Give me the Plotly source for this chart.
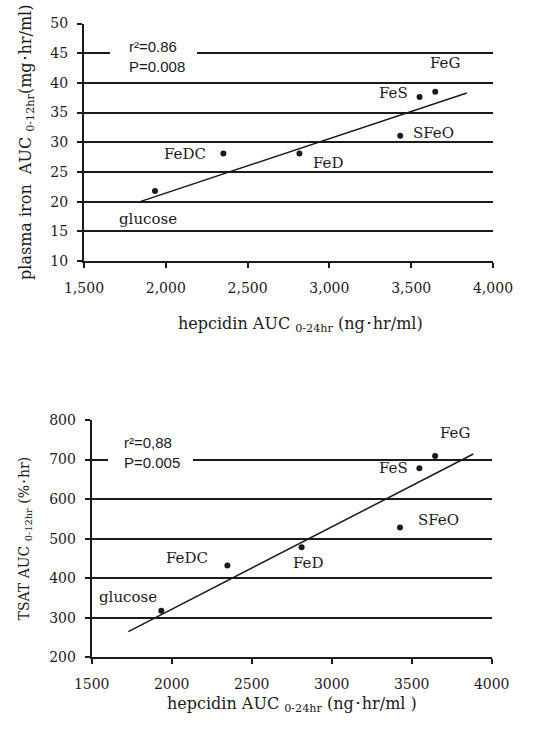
import plotly.graph_objects as go

# ---- data ----
groups = ["glucose", "FeDC", "FeD", "SFeO", "FeS", "FeG"]
hepcidin_top = [1934, 2352, 2817, 3433, 3551, 3647]
plasma_iron = [21.8, 28.1, 28.1, 31.1, 37.6, 38.5]
trend_top_x = [1843, 3840]
trend_top_y = [20.0, 38.3]

hepcidin_bot = [1935, 2348, 2812, 3427, 3548, 3646]
tsat = [318, 432, 478, 528, 678, 709]
trend_bot_x = [1729, 3885]
trend_bot_y = [265, 714]

stats_top = "r²=0.86<br>P=0.008"
stats_bot = "r²=0,88<br>P=0.005"

# label offsets (px) relative to points
off_top = [(-7, -28), (-38, 0), (29, -9), (33, 3), (-26, 4), (10, 29)]
off_bot = [(-33, 14), (-40, 8), (7, -16), (38, 8), (-26, 0), (20, 23)]

W, H = 543, 734
def px(x):
    return x / W
def py(y):
    return 1 - y / H

SERIF = "DejaVu Serif, Liberation Serif, serif"
SANS = "Liberation Sans, Arial, sans-serif"
INK = "#1a1a1a"

fig = go.Figure()
fig.add_trace(go.Scatter(x=hepcidin_top, y=plasma_iron, mode="markers",
                         marker=dict(color=INK, size=6), xaxis="x", yaxis="y",
                         showlegend=False))
fig.add_trace(go.Scatter(x=trend_top_x, y=trend_top_y, mode="lines",
                         line=dict(color=INK, width=1.5), xaxis="x", yaxis="y",
                         showlegend=False))
fig.add_trace(go.Scatter(x=hepcidin_bot, y=tsat, mode="markers",
                         marker=dict(color=INK, size=6), xaxis="x2", yaxis="y2",
                         showlegend=False))
fig.add_trace(go.Scatter(x=trend_bot_x, y=trend_bot_y, mode="lines",
                         line=dict(color=INK, width=1.5), xaxis="x2", yaxis="y2",
                         showlegend=False))

tickfont = dict(family=SERIF, size=14, color=INK)
titlefont = dict(family=SERIF, size=16, color=INK)
common_x = dict(showgrid=False, zeroline=False, showline=True, linecolor=INK,
                linewidth=2, ticks="outside", ticklen=5, tickwidth=1.5,
                tickcolor=INK, tickfont=tickfont, automargin=False,
                ticklabelstandoff=8)
common_y = dict(showgrid=True, gridcolor=INK, gridwidth=2, zeroline=False,
                showline=True, linecolor=INK, linewidth=2, ticks="outside",
                ticklen=5, tickwidth=2, tickcolor=INK, tickfont=tickfont,
                automargin=False, ticklabelstandoff=6)

fig.update_layout(
    width=W, height=H, margin=dict(l=0, r=0, t=0, b=0),
    paper_bgcolor="white", plot_bgcolor="white",
    xaxis=dict(common_x, domain=[px(84), px(493)], range=[1500, 4000],
               dtick=500, tickformat=",d", anchor="y"),
    yaxis=dict(common_y, domain=[py(261), py(23.5)], range=[10, 50],
               dtick=5, anchor="x",
               title=dict(text="plasma iron  AUC <sub>0-12hr</sub>(mg･hr/ml)",
                          font=dict(family=SERIF, size=16, color=INK),
                          standoff=15)),
    xaxis2=dict(common_x, domain=[px(91.7), px(491.7)], range=[1500, 4000],
                dtick=500, tickformat="d", anchor="y2"),
    yaxis2=dict(common_y, domain=[py(657.3), py(420)], range=[200, 800],
                dtick=100, anchor="x2",
                title=dict(text="TSAT AUC <sub>0-12hr</sub> (%･hr)",
                           font=dict(family=SERIF, size=14, color=INK),
                           standoff=16)),
)

annotations = []
for g, x, y, (dx, dy) in zip(groups, hepcidin_top, plasma_iron, off_top):
    annotations.append(dict(x=x, y=y, xref="x", yref="y", text=g, showarrow=False,
                            xshift=dx, yshift=dy,
                            font=dict(family=SERIF, size=15, color=INK)))
for g, x, y, (dx, dy) in zip(groups, hepcidin_bot, tsat, off_bot):
    annotations.append(dict(x=x, y=y, xref="x2", yref="y2", text=g, showarrow=False,
                            xshift=dx, yshift=dy,
                            font=dict(family=SERIF, size=15, color=INK)))

# stats boxes (white background hides gridline)
fig.add_shape(type="rect", xref="paper", yref="paper",
              x0=px(110), x1=px(197), y0=py(60), y1=py(46),
              fillcolor="white", line=dict(width=0), layer="above")
fig.add_shape(type="rect", xref="paper", yref="paper",
              x0=px(108), x1=px(193), y0=py(466), y1=py(452),
              fillcolor="white", line=dict(width=0), layer="above")
annotations.append(dict(x=px(127), y=py(56), xref="paper", yref="paper",
                        text=stats_top, showarrow=False, xanchor="left",
                        yanchor="middle", align="left",
                        font=dict(family=SANS, size=15, color=INK)))
annotations.append(dict(x=px(122), y=py(452), xref="paper", yref="paper",
                        text=stats_bot, showarrow=False, xanchor="left",
                        yanchor="middle", align="left",
                        font=dict(family=SANS, size=15, color=INK)))

# x axis titles
annotations.append(dict(x=px(300), y=py(325), xref="paper", yref="paper",
                        text="hepcidin AUC <sub>0-24hr</sub> (ng･hr/ml)",
                        showarrow=False, font=titlefont))
annotations.append(dict(x=px(292), y=py(717), xref="paper", yref="paper",
                        text="hepcidin AUC <sub>0-24hr</sub> (ng･hr/ml )",
                        showarrow=False, font=titlefont))

fig.update_layout(annotations=annotations)
fig.write_html("out.html")
